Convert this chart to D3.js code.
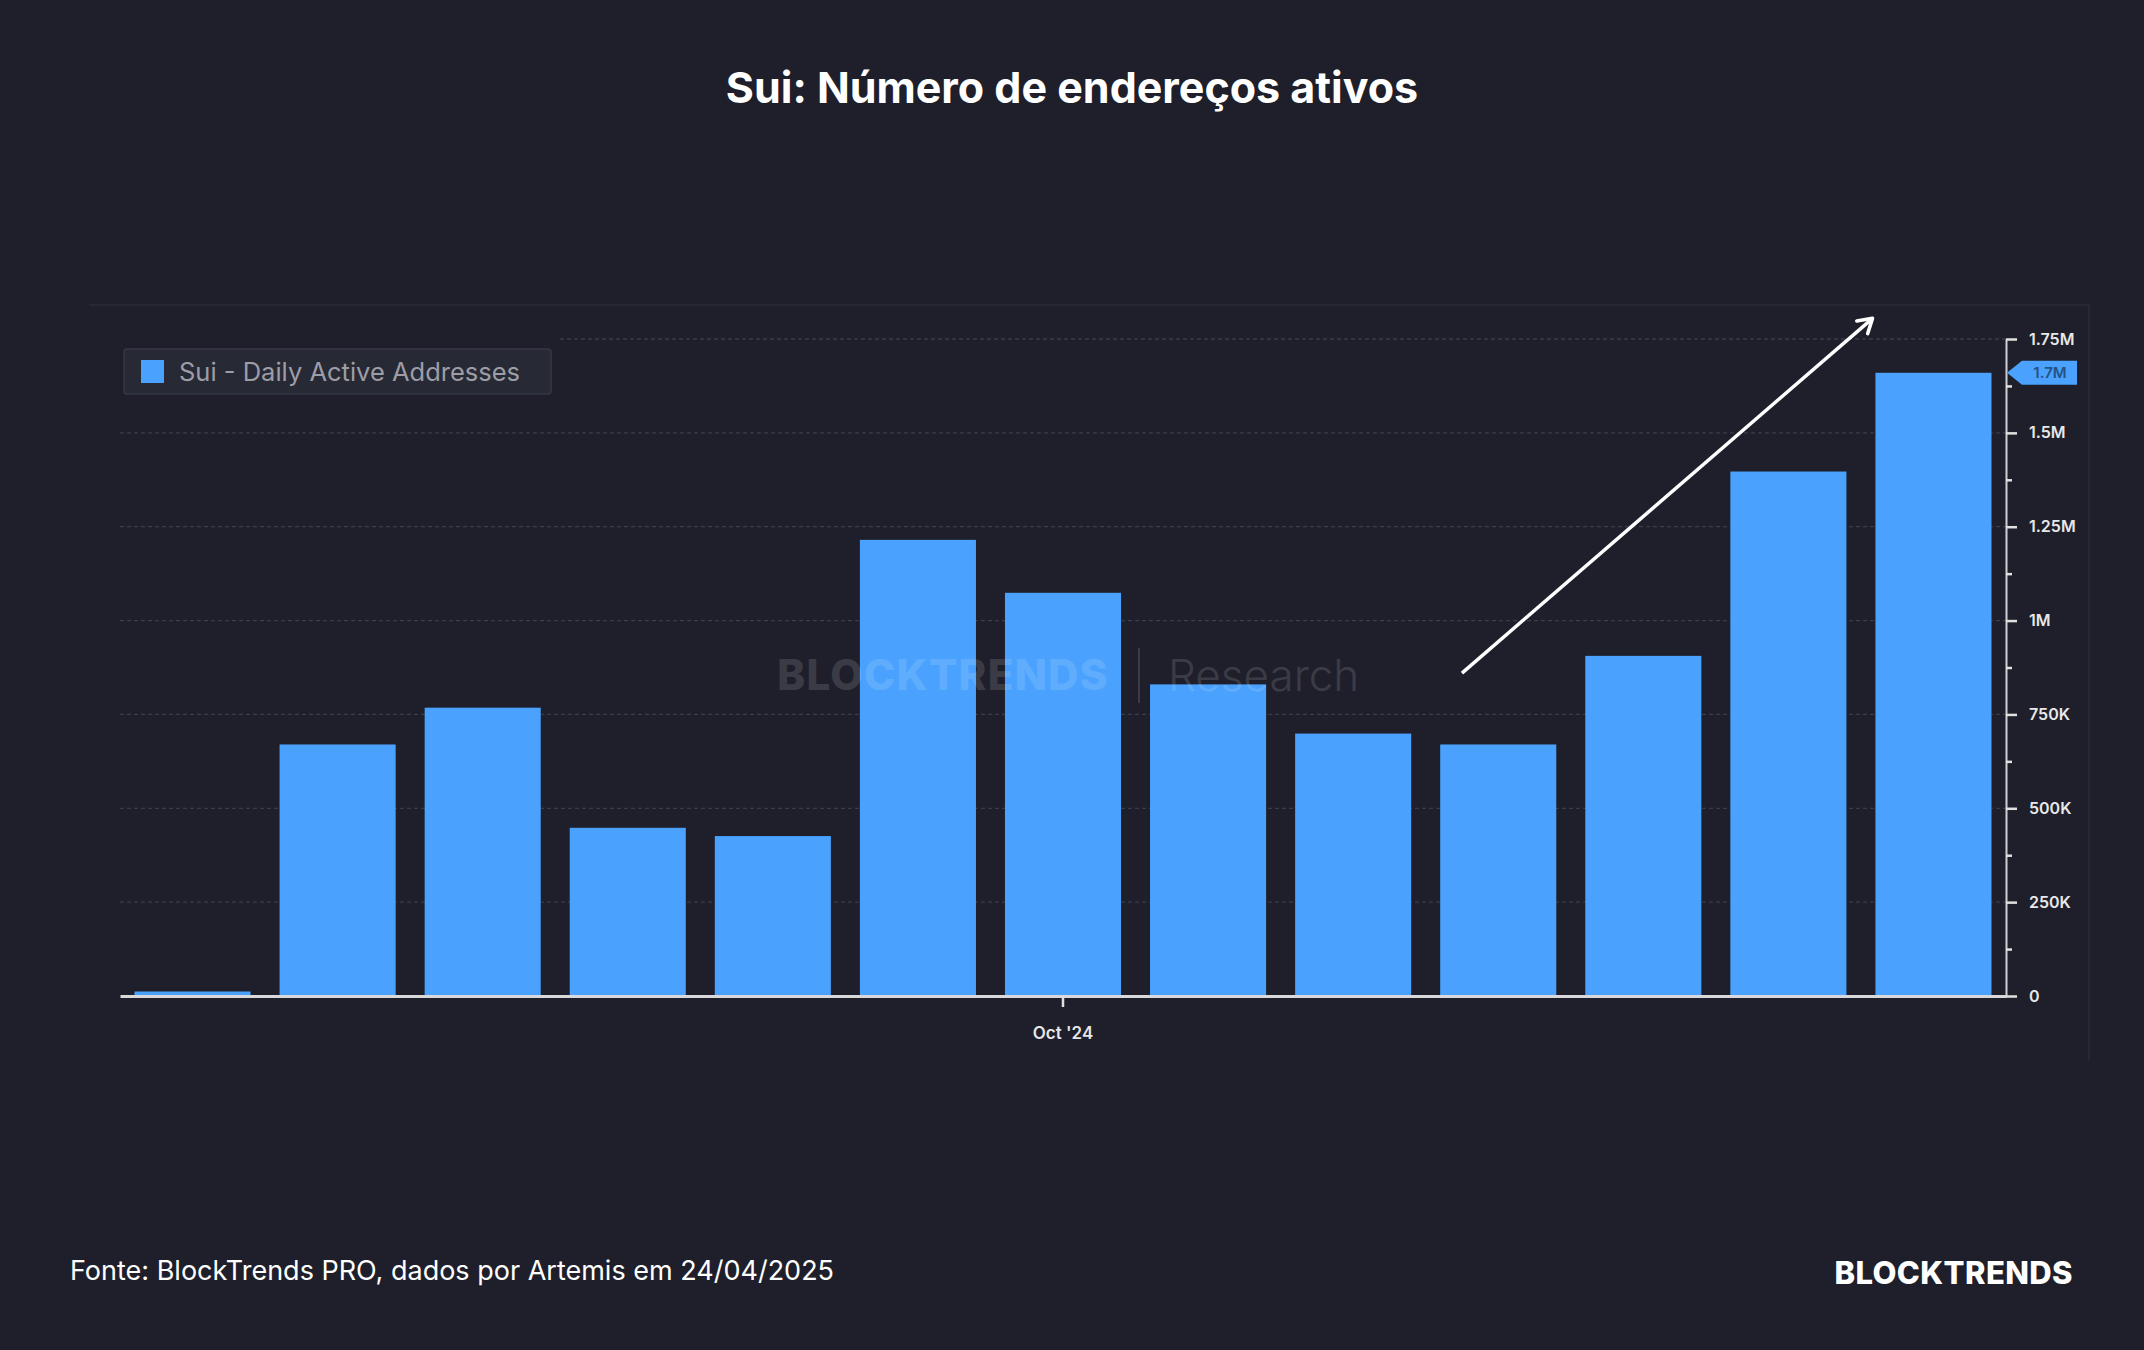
<!DOCTYPE html>
<html>
<head>
<meta charset="utf-8">
<script src="https://cdn.jsdelivr.net/npm/d3@7"></script>
<style>
    html, body { margin: 0; padding: 0; background: #1e1f2b; }
    svg { display: block; font-family: Inter, "Noto Sans", sans-serif; }
</style>
</head>
<body>
<div id="chart"></div>
<script>
// monthly buckets, Apr '24 .. Apr '25
const months = ["Apr '24", "May '24", "Jun '24", "Jul '24", "Aug '24", "Sep '24", "Oct '24",
    "Nov '24", "Dec '24", "Jan '25", "Feb '25", "Mar '25", "Apr '25"]
const activeAddresses = [12000, 670000, 768000, 448000, 426000, 1215000, 1074000,
    830000, 699000, 670000, 906000, 1397000, 1660000]
const xTickLabels = ["Oct '24"]
const yTicks = [0, 250000, 500000, 750000, 1000000, 1250000, 1500000, 1750000]
const yTickLabels = ["0", "250K", "500K", "750K", "1M", "1.25M", "1.5M", "1.75M"]
const lastValue = 1660000
const lastValueLabel = "1.7M"
const seriesName = "Sui - Daily Active Addresses"

const W = 2144, H = 1350
const barColor = "#4aa2fe"

const svg = d3.select("#chart")
    .append("svg")
        .attr("width", W)
        .attr("height", H)

svg.append("rect")
    .attr("width", W)
    .attr("height", H)
    .attr("fill", "#1e1f2b")

svg.append("text")
    .attr("x", W / 2)
    .attr("y", 103)
    .attr("text-anchor", "middle")
    .attr("fill", "#ffffff")
    .attr("font-size", 43)
    .attr("font-weight", 700)
    .text("Sui: Número de endereços ativos")

// faint panel frame of the screenshot
svg.append("path")
    .attr("d", "M89,305 H2089 V1060")
    .attr("fill", "none")
    .attr("stroke", "#2b2d39")
    .attr("stroke-width", 1.5)

const plot = {left: 120, right: 2006, top: 339, bottom: 996}

const xScale = d3.scaleBand()
    .domain(months)
    .range([plot.left, plot.right])
    .paddingInner(0.2)
    .paddingOuter(0.1)

const yScale = d3.scaleLinear()
    .domain([0, 1750000])
    .range([plot.bottom, plot.top])

// position along x in "band index" units (centre of band i)
const xAt = i => xScale(months[0]) + xScale.bandwidth() / 2 + i * xScale.step()

// grid
svg.append("g")
    .selectAll("line")
    .data(yTicks.slice(1))
    .join("line")
        .attr("x1", d => d === 1750000 ? 560 : plot.left)
        .attr("x2", plot.right)
        .attr("y1", d => yScale(d))
        .attr("y2", d => yScale(d))
        .attr("stroke", "#3a3c49")
        .attr("stroke-width", 1.3)
        .attr("stroke-dasharray", "4,3")

// bars
svg.append("g")
    .selectAll("rect")
    .data(activeAddresses)
    .join("rect")
        .attr("x", (d, i) => xScale(months[i]))
        .attr("width", xScale.bandwidth())
        .attr("y", d => yScale(d))
        .attr("height", d => plot.bottom - yScale(d))
        .attr("fill", barColor)

// watermark
const wm = svg.append("g").attr("opacity", 0.12)
wm.append("text")
    .attr("x", 943)
    .attr("y", 690)
    .attr("text-anchor", "middle")
    .attr("fill", "#ffffff")
    .attr("font-size", 42)
    .attr("font-weight", 800)
    .attr("letter-spacing", 1.3)
    .text("BLOCKTRENDS")
wm.append("line")
    .attr("x1", 1139).attr("x2", 1139)
    .attr("y1", 648).attr("y2", 703)
    .attr("stroke", "#ffffff")
    .attr("stroke-width", 2)
wm.append("text")
    .attr("x", 1168)
    .attr("y", 691)
    .attr("fill", "#ffffff")
    .attr("font-size", 44)
    .attr("font-weight", 300)
    .text("Research")

// x axis
const xAxis = svg.append("g")
    .attr("transform", `translate(0, ${plot.bottom})`)
    .call(d3.axisBottom(xScale).tickValues(xTickLabels).tickSize(11).tickSizeOuter(0))
xAxis.select(".domain")
    .attr("stroke", "#d9d9dc")
    .attr("stroke-width", 3)
xAxis.selectAll(".tick line")
    .attr("stroke", "#e0e0e0")
    .attr("stroke-width", 2.5)
xAxis.selectAll(".tick text")
    .attr("fill", "#e6e6e6")
    .attr("font-size", 17)
    .attr("font-weight", 600)
    .attr("font-family", "Inter, sans-serif")
    .attr("dy", "1.7em")

// y axis, major + minor ticks
const yAxis = svg.append("g")
    .attr("transform", `translate(${plot.right}, 0)`)
    .call(d3.axisRight(yScale)
        .tickValues(yTicks)
        .tickSize(11)
        .tickSizeOuter(0)
        .tickFormat((d, i) => yTickLabels[i]))
yAxis.select(".domain")
    .attr("stroke", "#cfcfd3")
    .attr("stroke-width", 2)
yAxis.selectAll(".tick line")
    .attr("stroke", "#e0e0e0")
    .attr("stroke-width", 2.5)
yAxis.selectAll(".tick text")
    .attr("x", 23)
    .attr("fill", "#e8e8e8")
    .attr("font-size", 16)
    .attr("font-weight", 600)
    .attr("font-family", "Inter, sans-serif")

const minorTicks = yTicks.slice(0, -1).map(d => d + 125000)
const yMinor = svg.append("g")
    .attr("transform", `translate(${plot.right}, 0)`)
    .call(d3.axisRight(yScale).tickValues(minorTicks).tickSize(6).tickFormat(""))
yMinor.select(".domain").remove()
yMinor.selectAll(".tick line")
    .attr("stroke", "#e0e0e0")
    .attr("stroke-width", 2.5)

// last value tag
const tagY = yScale(lastValue)
svg.append("path")
    .attr("d", `M${plot.right + 1},${tagY} L${plot.right + 16},${tagY - 12} H${plot.right + 71} V${tagY + 12} H${plot.right + 16} Z`)
    .attr("fill", barColor)
svg.append("text")
    .attr("x", plot.right + 44)
    .attr("y", tagY)
    .attr("dy", "0.36em")
    .attr("text-anchor", "middle")
    .attr("fill", "#235384")
    .attr("font-size", 15)
    .attr("font-weight", 600)
    .text(lastValueLabel)

// legend
const legend = svg.append("g").attr("transform", "translate(124, 349)")
legend.append("rect")
    .attr("width", 427)
    .attr("height", 45)
    .attr("rx", 3)
    .attr("fill", "#272935")
    .attr("stroke", "#353744")
    .attr("stroke-width", 1.5)
legend.append("rect")
    .attr("x", 17)
    .attr("y", 11)
    .attr("width", 23)
    .attr("height", 23)
    .attr("fill", barColor)
legend.append("text")
    .attr("x", 55)
    .attr("y", 23)
    .attr("dy", "0.36em")
    .attr("fill", "#9c9da6")
    .attr("font-size", 25.5)
    .text(seriesName)

// trend arrow
const arrowStart = [xAt(8.75), yScale(860000)]
const arrowEnd = [xAt(11.58), yScale(1805000)]
svg.append("line")
    .attr("x1", arrowStart[0]).attr("y1", arrowStart[1])
    .attr("x2", arrowEnd[0]).attr("y2", arrowEnd[1])
    .attr("stroke", "#ffffff")
    .attr("stroke-width", 3.5)
const ang = Math.atan2(arrowEnd[1] - arrowStart[1], arrowEnd[0] - arrowStart[0])
const head = 16
svg.append("path")
    .attr("d", [ang - 0.55, ang + 0.55].map(a =>
        `M${arrowEnd[0] - head * Math.cos(a)},${arrowEnd[1] - head * Math.sin(a)} L${arrowEnd[0]},${arrowEnd[1]}`).join(" "))
    .attr("fill", "none")
    .attr("stroke", "#ffffff")
    .attr("stroke-width", 3.5)
    .attr("stroke-linecap", "round")

// footer
svg.append("text")
    .attr("x", 70)
    .attr("y", 1280)
    .attr("fill", "#ffffff")
    .attr("font-size", 27)
    .text("Fonte: BlockTrends PRO, dados por Artemis em 24/04/2025")

svg.append("text")
    .attr("x", 2073)
    .attr("y", 1284)
    .attr("text-anchor", "end")
    .attr("fill", "#ffffff")
    .attr("font-size", 31)
    .attr("font-weight", 800)
    .attr("letter-spacing", 0.4)
    .text("BLOCKTRENDS")
</script>
</body>
</html>
